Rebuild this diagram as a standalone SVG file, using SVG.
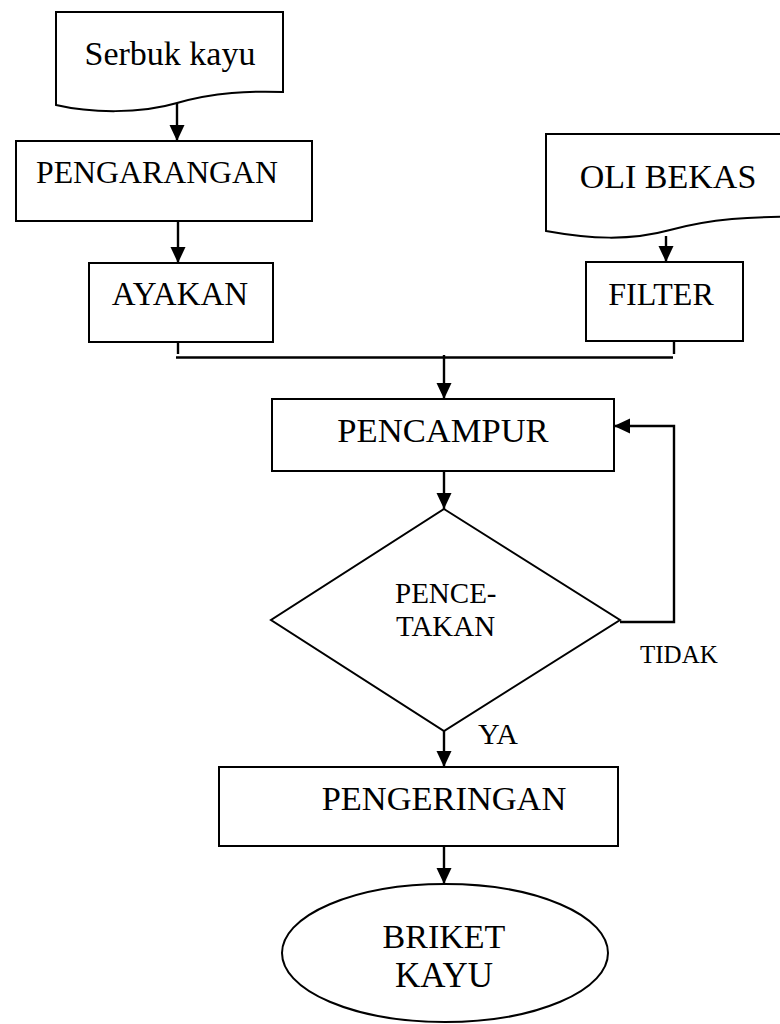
<svg xmlns="http://www.w3.org/2000/svg" width="780" height="1024" viewBox="0 0 780 1024">
  <style>
    .shape { fill: #ffffff; stroke: #000000; stroke-width: 2; }
    .conn { fill: none; stroke: #000000; stroke-width: 2.4; }
    .t { font-family: "Liberation Serif", "Times New Roman", serif; fill: #000000; }
  </style>
  <defs>
    <marker id="arrow" markerWidth="16" markerHeight="16" viewBox="0 0 16 16" refX="16" refY="8" orient="auto" markerUnits="userSpaceOnUse">
      <path d="M0,0.5 L16,8 L0,15.5 Z" fill="#000000"/>
    </marker>
  </defs>
  <rect width="780" height="1024" fill="#ffffff"/>

  <g id="serbuk-kayu">
    <path class="shape" d="M56,12 H283 V92 C250,91 215,92 177,103 C140,114 90,113 56,105 Z"/>
    <text class="t" x="170" y="65" font-size="34" text-anchor="middle">Serbuk kayu</text>
  </g>

  <g id="pengarangan">
    <rect class="shape" x="16" y="141" width="296" height="80"/>
    <text class="t" x="157" y="183" font-size="31.8" text-anchor="middle">PENGARANGAN</text>
  </g>

  <g id="ayakan">
    <rect class="shape" x="89" y="263" width="184" height="79"/>
    <text class="t" x="180" y="305" font-size="33" text-anchor="middle">AYAKAN</text>
  </g>

  <g id="oli-bekas">
    <path class="shape" d="M546,134 H806 V217 C750,216 710,219 670,230 C630,241 590,239 546,231 Z"/>
    <text class="t" x="668" y="188" font-size="34" text-anchor="middle">OLI BEKAS</text>
  </g>

  <g id="filter">
    <rect class="shape" x="586" y="262" width="157" height="79"/>
    <text class="t" x="661" y="305" font-size="32" text-anchor="middle">FILTER</text>
  </g>

  <g id="pencampur">
    <rect class="shape" x="272" y="399" width="342" height="72"/>
    <text class="t" x="443" y="442" font-size="34.6" text-anchor="middle">PENCAMPUR</text>
  </g>

  <g id="pencetakan">
    <path class="shape" d="M444,509 L620,620 L444,731 L271,620 Z"/>
    <text class="t" x="395" y="603" font-size="29">PENCE-</text>
    <text class="t" x="396" y="636" font-size="29">TAKAN</text>
  </g>

  <g id="pengeringan">
    <rect class="shape" x="219" y="767" width="399" height="79"/>
    <text class="t" x="444" y="810" font-size="34.4" text-anchor="middle">PENGERINGAN</text>
  </g>

  <g id="briket-kayu">
    <ellipse class="shape" cx="445" cy="953" rx="163" ry="69"/>
    <text class="t" x="444" y="948" font-size="34" text-anchor="middle">BRIKET</text>
    <text class="t" x="444" y="987" font-size="35" text-anchor="middle">KAYU</text>
  </g>

  <g id="connectors">
    <line class="conn" x1="177" y1="103" x2="177" y2="141" marker-end="url(#arrow)"/>
    <line class="conn" x1="178" y1="221" x2="178" y2="263" marker-end="url(#arrow)"/>
    <line class="conn" x1="666" y1="236" x2="666" y2="262" marker-end="url(#arrow)"/>
    <line class="conn" x1="178" y1="342" x2="178" y2="354"/>
    <line class="conn" x1="674" y1="341" x2="674" y2="354"/>
    <line class="conn" x1="176" y1="357.5" x2="673" y2="357.5"/>
    <line class="conn" x1="444" y1="355" x2="444" y2="399" marker-end="url(#arrow)"/>
    <line class="conn" x1="444" y1="471" x2="444" y2="509" marker-end="url(#arrow)"/>
    <polyline class="conn" points="620,622 674,622 674,426 614,426" marker-end="url(#arrow)"/>
    <line class="conn" x1="444" y1="731" x2="444" y2="767" marker-end="url(#arrow)"/>
    <line class="conn" x1="444" y1="846" x2="444" y2="884" marker-end="url(#arrow)"/>
    <text class="t" x="640" y="663" font-size="25">TIDAK</text>
    <text class="t" x="478" y="744" font-size="30">YA</text>
  </g>
</svg>
